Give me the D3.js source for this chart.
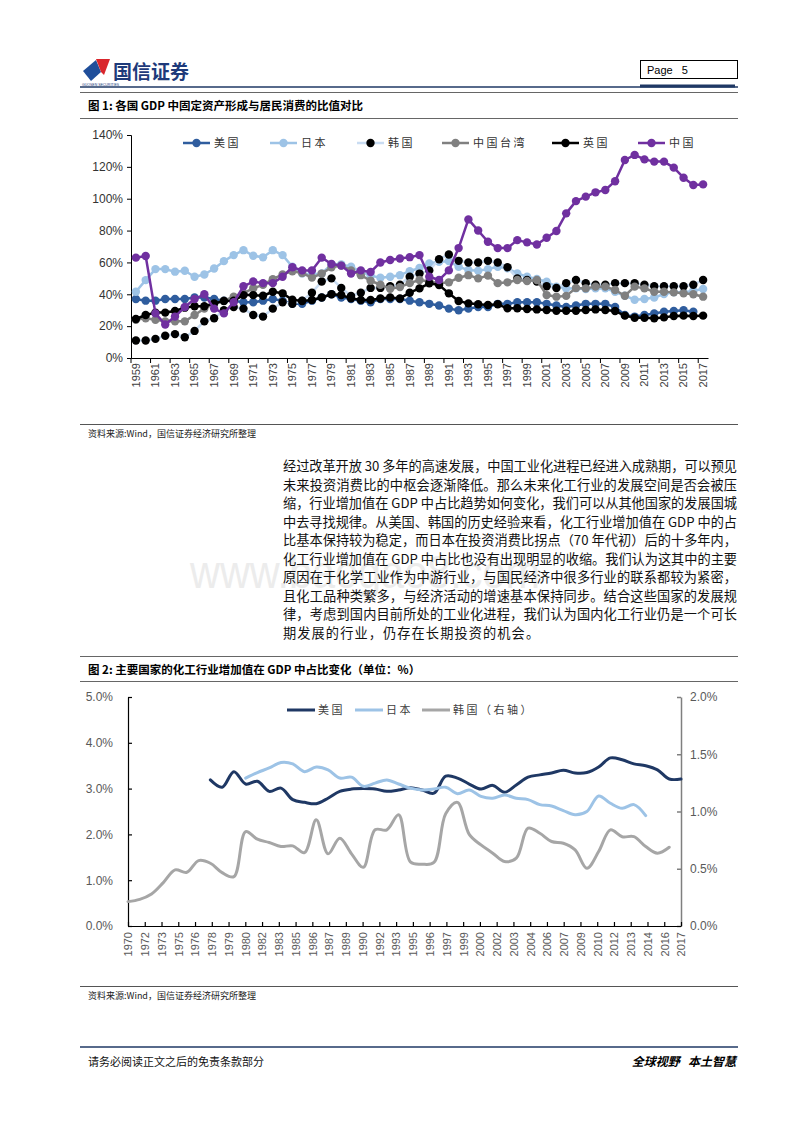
<!DOCTYPE html>
<html><head><meta charset="utf-8">
<script src="https://cdn.jsdelivr.net/npm/d3@7/dist/d3.min.js"></script>
<style>
body{margin:0;background:#fff;}
svg{display:block;}
</style></head><body>
<svg id="page" width="800" height="1132"></svg>
<script>
// ---------------- DATA : Figure 1 ----------------
const years1 = d3.range(1959, 2018);
const usa1 = [37,36,36,37,37,37,38,38,37,36, 36,35,35,36,37,36,34,34,36,38, 40,38,37,36,35,37,37,37,36,35, 34,33,31,30,31,32,32,34,34,35, 35,35,34,33,32,33,34,34,34,32, 27,26,27,28,29,29.5,30,29,null];
const japan1 = [41.6,48.9,55.8,55.8,54.2,54.8,51,52.4,56.2,60.8, 64.6,67.7,64.2,63.2,67.7,64.6,57.3,53.1,52.5,53.1, 58.8,58.8,57.3,54.2,51.7,50.4,51,52,54.5,56.5, 59.4,60.4,60.8,57.3,55.2,54.8,55.8,57.3,56.3,53.1, 51,49.6,47.9,44.8,43.7,43.7,43.3,43.7,43.7,41.6, 39.1,36.6,37,38,40.1,41.2,41.2,42.2,43.3];
const korea1 = [11,11,12,14,15,13,17,23,25,30, 32,31,27,26,31,35,34,36,41,48, 50,44,39,41,44,44,45,46,51,53, 55,62,65,61,60,60,61,60,57,50, 49,48,45,44,47,49,47,46,46,47, 47,47,46,45,45,45,45,46,49];
const taiwan1 = [24,25,24,23,23,23,27,31,34,36, 38.5,40.6,43.8,45.9,49.5,52.5,54.5,53.3,50.5,53, 57,58,55,52,48.5,46,43.5,44.5,47,49, 48,47,47.5,50.4,52,50,51.7,47,47.5,49, 48.3,49,39.5,38.5,39,44,43.7,44.8,44.8,42.7, 39.1,44.8,43.7,41.6,41.6,41.2,40.6,40,38.5];
const uk1 = [24.5,27,28.5,28.5,29.5,31.6,32.5,32.5,34.3,35.8, 36,39.5,39.5,39.1,41.6,40.6,36.6,35.8,36.4,38, 40,39.5,37.5,36.4,36.4,37.4,38,37.4,41,43.7, 46.9,45.8,40.6,35.8,34.3,33.7,33.3,33.7,31.2,31.2, 30.8,30.5,30.1,29.7,29.7,29.7,30.1,30.5,30.1,29.5, 26.6,25.3,25.3,24.9,25.5,26.4,26.6,26.4,26.6];
const china1 = [63,64,28,21,26,32,37,40,31,28, 35,45,48,47,47,51,57,55,55,63, 59,58,53,55,54,60,61.5,62.5,63.3,64.6, 51,49,55,69,87,80,73,69,69,74, 72.6,71.3,75.5,79.7,90.8,98.5,101.3,104,105.5,111, 124.3,127.5,124.7,123.3,123.3,119.5,113.2,108.6,109];
const seriesNames1 = ["美国","日本","韩国","中国台湾","英国","中国"];
const yTicks1 = [0,20,40,60,80,100,120,140];

// ---------------- DATA : Figure 2 ----------------
const years2 = d3.range(1970, 2018);
const xLabels2 = ["1970","1972","1973","1975","1976","1978","1979","1980","1982","1983","1985","1986","1987","1989","1990","1992","1993","1995","1996","1997","1999","2000","2002","2003","2004","2006","2007","2009","2010","2012","2013","2014","2016","2017"];
const usa2 = [null,null,null,null,null,null,null, 3.19,3.03,3.37, 3.10,3.16,2.94,3.01,2.76,2.70,2.67,2.79,2.94,2.99, 3.00,2.99,2.94,2.97,3.02,2.97,2.90,3.27,3.23,3.10, 2.99,3.07,2.92,3.08,3.25,3.30,3.34,3.40,3.34,3.35, 3.47,3.67,3.63,3.54,3.50,3.41,3.21,3.21];
const japan2 = [null,null,null,null,null,null,null,null,null,null, 3.23,3.35,3.45,3.57,3.54,3.37,3.47,3.41,3.23,3.25, 3.05,3.12,3.19,3.10,3.01,2.97,2.99,3.03,2.89,2.97, 2.83,2.79,2.86,2.79,2.76,2.65,2.62,2.52,2.43,2.50, 2.84,2.68,2.57,2.65,2.41,null,null,null];
const korea2 = [0.213,0.233,0.28,0.379,0.49,0.469,0.571,0.548,0.466,0.431, 0.825,0.758,0.729,0.694,0.70,0.641,0.927,0.63,0.767,0.63, 0.513,0.84,0.84,0.971,0.56,0.54,0.555,0.98,1.08,0.80, 0.708,0.636,0.563,0.592,0.854,0.81,0.738,0.723,0.665,0.504, 0.65,0.84,0.78,0.78,0.694,0.636,0.688,null];
const seriesNames2 = ["美国","日本","韩国（右轴）"];
const yTicksLeft2 = [0,1,2,3,4,5];
const yTicksRight2 = [0,0.5,1,1.5,2];

// ---------------- TEXT ----------------
const paragraph = [
 "经过改革开放 30 多年的高速发展，中国工业化进程已经进入成熟期，可以预见",
 "未来投资消费比的中枢会逐渐降低。那么未来化工行业的发展空间是否会被压",
 "缩，行业增加值在 GDP 中占比趋势如何变化，我们可以从其他国家的发展国城",
 "中去寻找规律。从美国、韩国的历史经验来看，化工行业增加值在 GDP 中的占",
 "比基本保持较为稳定，而日本在投资消费比拐点（70 年代初）后的十多年内，",
 "化工行业增加值在 GDP 中占比也没有出现明显的收缩。我们认为这其中的主要",
 "原因在于化学工业作为中游行业，与国民经济中很多行业的联系都较为紧密，",
 "且化工品种类繁多，与经济活动的增速基本保持同步。结合这些国家的发展规",
 "律，考虑到国内目前所处的工业化进程，我们认为国内化工行业仍是一个可长",
 "期发展的行业，仍存在长期投资的机会。"
];

const CJK = "'Noto Sans CJK SC', sans-serif";
const LAT = "'Liberation Sans', Arial, sans-serif";
const svg = d3.select("#page");
svg.append("rect").attr("width",800).attr("height",1132).attr("fill","#fff");

// ---------------- HEADER ----------------
svg.append("polygon").attr("points","83,71 96,60 101,72 91,81").attr("fill","#1f4e9a");
svg.append("polygon").attr("points","96,59 110,59 104,75 101,72").attr("fill","#d9262c");
svg.append("text").attr("x",113).attr("y",79).text("国信证券")
  .attr("font-family",CJK).attr("font-weight","bold").attr("font-size",19).attr("fill","#1e3a7a");
svg.append("text").attr("x",82).attr("y",86).text("GUOSEN SECURITIES")
  .attr("font-family",LAT).attr("font-size",3.5).attr("fill","#1e3a7a");
svg.append("line").attr("x1",80).attr("x2",738).attr("y1",87).attr("y2",87).attr("stroke","#1f3864").attr("stroke-width",1.5);
svg.append("line").attr("x1",640).attr("x2",735).attr("y1",86).attr("y2",86).attr("stroke","#1f3864").attr("stroke-width",3);
svg.append("rect").attr("x",640.5).attr("y",60.5).attr("width",97).attr("height",18).attr("fill","none").attr("stroke","#000");
svg.append("text").attr("x",647).attr("y",74).text("Page   5").attr("font-family",LAT).attr("font-size",11).attr("xml:space","preserve");

function titleBar(y1, y2, txt){
  svg.append("line").attr("x1",80).attr("x2",738).attr("y1",y1).attr("y2",y1).attr("stroke","#666").attr("stroke-width",1);
  svg.append("line").attr("x1",80).attr("x2",738).attr("y1",y2).attr("y2",y2).attr("stroke","#666").attr("stroke-width",1);
  svg.append("text").attr("x",88).attr("y",(y1+y2)/2+4.5).text(txt)
    .attr("font-family",CJK).attr("font-weight","bold").attr("font-size",11.5).attr("fill","#000");
}
function source(y){
  svg.append("line").attr("x1",80).attr("x2",738).attr("y1",y).attr("y2",y).attr("stroke","#555").attr("stroke-width",1);
  svg.append("text").attr("x",88).attr("y",y+12).text("资料来源:Wind，国信证券经济研究所整理")
    .attr("font-family",CJK).attr("font-size",9).attr("fill","#222");
}

titleBar(92.5, 118.5, "图 1:  各国 GDP 中固定资产形成与居民消费的比值对比");

// ---------------- FIGURE 1 ----------------
const x1 = d3.scaleBand().domain(years1).range([131, 708]);
const cx1 = yr => x1(yr) + x1.bandwidth()/2;
const y1 = d3.scaleLinear().domain([0,140]).range([358,135]);

const yAx1 = svg.append("g").attr("transform","translate(131,0)")
  .call(d3.axisLeft(y1).tickValues(yTicks1).tickFormat(d=>d+"%").tickSize(4).tickPadding(4));
yAx1.selectAll("text").attr("font-family",LAT).attr("font-size",12).attr("fill","#333");
yAx1.selectAll("line,path").attr("stroke","#000");

const oddYears = years1.filter(y => (y-1959)%2===0);
const xAx1 = svg.append("g").attr("transform","translate(0,358)")
  .call(d3.axisBottom(x1).tickValues(oddYears).tickSize(0).tickSizeOuter(0).tickPadding(0));
xAx1.select("path").attr("stroke","#000");
xAx1.selectAll(".tick text")
  .attr("transform","rotate(-90)").attr("text-anchor","end")
  .attr("x",-5).attr("y",0).attr("dy","0.35em")
  .attr("font-family",LAT).attr("font-size",11).attr("fill","#404040");
svg.append("g").selectAll("line").data(oddYears).join("line")
  .attr("x1",d=>x1(d)).attr("x2",d=>x1(d)).attr("y1",358).attr("y2",363).attr("stroke","#000");

const s1 = [
  {name:seriesNames1[0], v:usa1,   line:"#2f5d9e", mk:"#2f5d9e"},
  {name:seriesNames1[1], v:japan1, line:"#9dc3e6", mk:"#9dc3e6"},
  {name:seriesNames1[2], v:korea1, line:"#c9dcf2", mk:"#000000"},
  {name:seriesNames1[3], v:taiwan1,line:"#808080", mk:"#808080"},
  {name:seriesNames1[4], v:uk1,    line:"#000000", mk:"#000000"},
  {name:seriesNames1[5], v:china1, line:"#7030a0", mk:"#7030a0"}
];
const line1 = d3.line().defined(d=>d.v!=null).x(d=>cx1(d.yr)).y(d=>y1(d.v));
s1.forEach(s=>{
  const pts = years1.map((yr,i)=>({yr, v:s.v[i]}));
  const g = svg.append("g");
  g.append("path").datum(pts).attr("d",line1).attr("fill","none").attr("stroke",s.line).attr("stroke-width",2.5).attr("stroke-linejoin","round");
  g.selectAll("circle").data(pts.filter(d=>d.v!=null)).join("circle")
    .attr("cx",d=>cx1(d.yr)).attr("cy",d=>y1(d.v)).attr("r",4.2).attr("fill",s.mk);
});

// legend 1
const leg1X = [183, 270, 357, 442, 552, 638];
s1.forEach((s,i)=>{
  const lx = leg1X[i], ly = 143;
  svg.append("line").attr("x1",lx).attr("x2",lx+27).attr("y1",ly).attr("y2",ly).attr("stroke",s.line).attr("stroke-width",2.5);
  svg.append("circle").attr("cx",lx+13.5).attr("cy",ly).attr("r",4.2).attr("fill",s.mk);
  svg.append("text").attr("x",lx+31).attr("y",ly+4).text(s.name)
    .attr("font-family",CJK).attr("font-size",11).attr("letter-spacing",2.5).attr("fill","#333");
});

source(424.5);

// ---------------- PARAGRAPH ----------------
svg.append("text").attr("x",190).attr("y",588).text("www.baogao8.com")
  .attr("font-family",LAT).attr("font-size",46).attr("fill","#ececec").attr("textLength",350).attr("lengthAdjust","spacingAndGlyphs");
paragraph.forEach((t,i)=>{
  const tx = svg.append("text").attr("x",283).attr("y",471+i*18.5).text(t)
    .attr("font-family",CJK).attr("font-size",13.2).attr("fill","#111");
  if(i < paragraph.length-1) tx.attr("textLength",454).attr("lengthAdjust","spacing");
  else tx.attr("letter-spacing",1.1);
});

titleBar(656.5, 681.5, "图 2:  主要国家的化工行业增加值在 GDP 中占比变化（单位：%）");

// ---------------- FIGURE 2 ----------------
const xl2 = d3.scalePoint().domain(xLabels2).range([128, 681]);
const xy2 = d3.scaleLinear().domain([1970, 2017]).range([128, 681]);
const yl2 = d3.scaleLinear().domain([0,5]).range([926, 697]);
const yr2 = d3.scaleLinear().domain([0,2]).range([926, 697]);

const yAxL = svg.append("g").attr("transform","translate(128,0)")
  .call(d3.axisLeft(yl2).tickValues(yTicksLeft2).tickFormat(d=>d.toFixed(1)+"%").tickSizeInner(-4).tickSizeOuter(0).tickPadding(15));
yAxL.selectAll("text").attr("font-family",LAT).attr("font-size",12).attr("fill","#595959");
yAxL.selectAll("line,path").attr("stroke","#000").attr("stroke-width",1.2);

const yAxR = svg.append("g").attr("transform","translate(681,0)")
  .call(d3.axisRight(yr2).tickValues(yTicksRight2).tickFormat(d=>d.toFixed(1)+"%").tickSizeInner(-4).tickSizeOuter(0).tickPadding(9));
yAxR.selectAll("text").attr("font-family",LAT).attr("font-size",12).attr("fill","#595959");
yAxR.selectAll("line,path").attr("stroke","#7f7f7f").attr("stroke-width",1.5);

const xAx2 = svg.append("g").attr("transform","translate(0,926)")
  .call(d3.axisBottom(xl2).tickSizeInner(-4).tickSizeOuter(0).tickPadding(0));
xAx2.selectAll("line,path").attr("stroke","#000").attr("stroke-width",1.2);
xAx2.selectAll(".tick text")
  .attr("transform","rotate(-90)").attr("text-anchor","end")
  .attr("x",-6).attr("y",0).attr("dy","0.35em")
  .attr("font-family",LAT).attr("font-size",11).attr("fill","#595959");

const s2 = [
  {name:seriesNames2[0], v:usa2,   color:"#1f3864", y:yl2},
  {name:seriesNames2[1], v:japan2, color:"#9dc3e6", y:yl2},
  {name:seriesNames2[2], v:korea2, color:"#a6a6a6", y:yr2}
];
s2.forEach(s=>{
  const pts = years2.map((yr,i)=>({yr, v:s.v[i]})).filter(d=>d.v!=null);
  const ln = d3.line().curve(d3.curveCatmullRom.alpha(0.5)).x(d=>xy2(d.yr)).y(d=>s.y(d.v));
  svg.append("path").datum(pts).attr("d",ln).attr("fill","none").attr("stroke",s.color).attr("stroke-width",3).attr("stroke-linejoin","round").attr("stroke-linecap","round");
});

// legend 2
const leg2X = [287, 355, 422];
s2.forEach((s,i)=>{
  const lx = leg2X[i], ly = 710;
  svg.append("line").attr("x1",lx).attr("x2",lx+28).attr("y1",ly).attr("y2",ly).attr("stroke",s.color).attr("stroke-width",3);
  svg.append("text").attr("x",lx+31).attr("y",ly+4).text(s.name)
    .attr("font-family",CJK).attr("font-size",11).attr("letter-spacing",2.5).attr("fill","#404040");
});

source(986.5);

// ---------------- FOOTER ----------------
svg.append("line").attr("x1",80).attr("x2",738).attr("y1",1047).attr("y2",1047).attr("stroke","#1f3864").attr("stroke-width",1.5);
svg.append("text").attr("x",88).attr("y",1066).text("请务必阅读正文之后的免责条款部分")
  .attr("font-family",CJK).attr("font-size",11).attr("fill","#111");
svg.append("text").attr("x",736).attr("y",1066).attr("text-anchor","end").text("全球视野   本土智慧")
  .attr("xml:space","preserve").attr("font-family",CJK).attr("font-size",12).attr("font-weight","bold").attr("font-style","italic").attr("fill","#000");
</script>
</body></html>
